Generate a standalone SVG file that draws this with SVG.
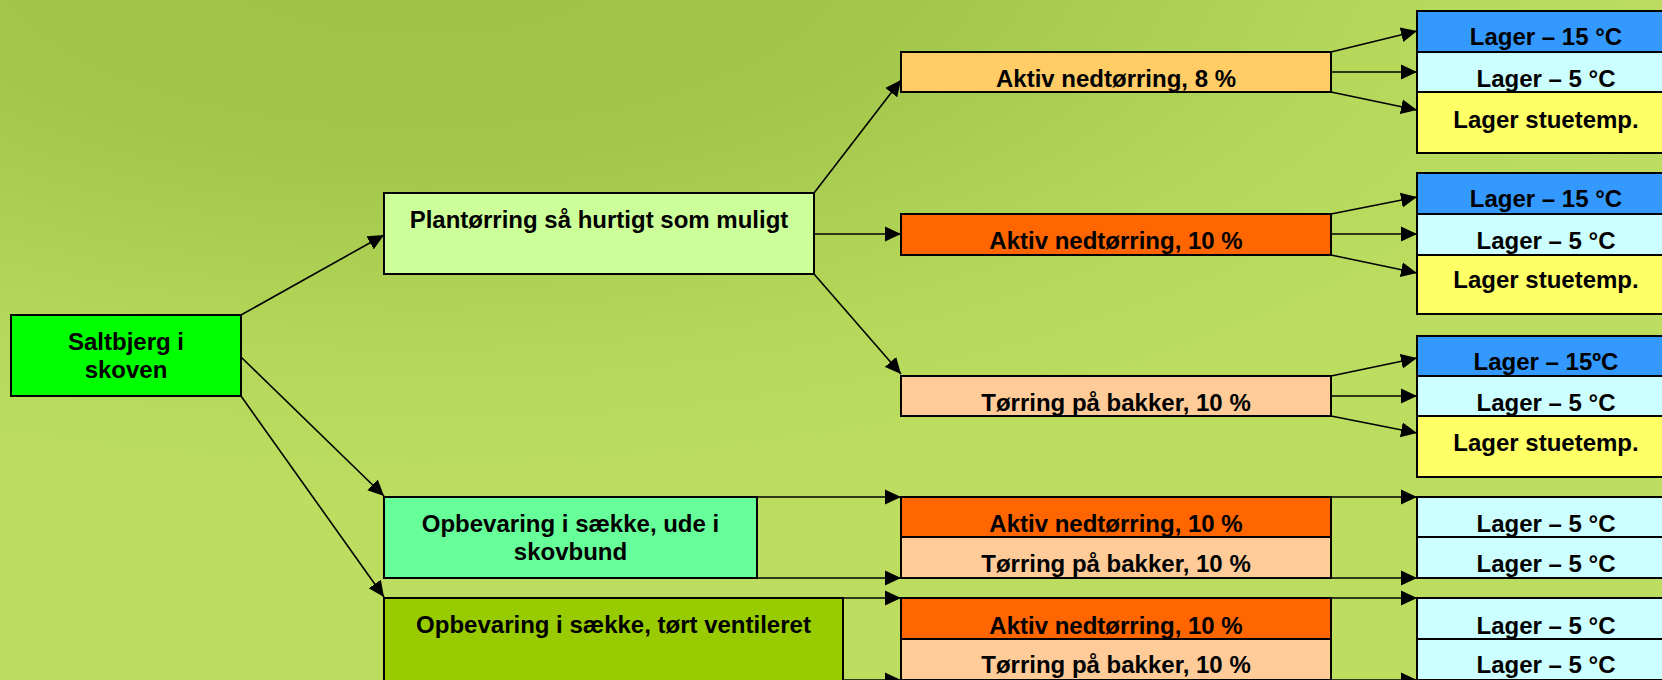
<svg xmlns="http://www.w3.org/2000/svg" width="1662" height="680" viewBox="0 0 1662 680">
<defs>
<radialGradient id="bg" gradientUnits="userSpaceOnUse" cx="0" cy="0" r="1" gradientTransform="translate(420,-60) scale(1300,560)">
<stop offset="0" stop-color="#9dc244"/>
<stop offset="0.38" stop-color="#a2c64a"/>
<stop offset="0.75" stop-color="#b5d85a"/>
<stop offset="1" stop-color="#bcdd60"/>
</radialGradient>
<marker id="ah" markerUnits="userSpaceOnUse" markerWidth="17" markerHeight="16" viewBox="0 0 17 16" refX="16" refY="8" orient="auto">
<path d="M0,0.5 L16,8 L0,15.5 Z" fill="#000"/>
</marker>
</defs>
<style>
.box{stroke:#000;stroke-width:2}
.t{font-family:"Liberation Sans",Arial,Helvetica,sans-serif;font-weight:bold;font-size:24px;fill:#000;text-anchor:middle}
.c{stroke:#000;stroke-width:1.6;fill:none;marker-end:url(#ah)}
</style>
<rect x="0" y="0" width="1662" height="680" fill="url(#bg)"/>

<g id="n-saltbjerg">
<rect class="box" x="11" y="315" width="230" height="81" fill="#00ff00"/>
<text class="t" x="126" y="350">Saltbjerg i</text>
<text class="t" x="126" y="378">skoven</text>
</g>
<g id="n-plant">
<rect class="box" x="384" y="193" width="430" height="81" fill="#ccff99"/>
<text class="t" x="599" y="228">Plantørring så hurtigt som muligt</text>
</g>
<g id="n-opb-ude">
<rect class="box" x="384" y="497" width="373" height="81" fill="#66ff99"/>
<text class="t" x="570.5" y="532">Opbevaring i sække, ude i</text>
<text class="t" x="570.5" y="560">skovbund</text>
</g>
<g id="n-opb-tort">
<rect class="box" x="384" y="598" width="459" height="90" fill="#99cc00"/>
<text class="t" x="613.5" y="633">Opbevaring i sække, tørt ventileret</text>
</g>

<g id="n-aktiv8">
<rect class="box" x="901" y="52" width="430" height="40" fill="#ffcc66"/>
<text class="t" x="1116" y="87">Aktiv nedtørring, 8 %</text>
</g>
<g id="n-aktiv10a">
<rect class="box" x="901" y="214" width="430" height="41" fill="#ff6600"/>
<text class="t" x="1116" y="249">Aktiv nedtørring, 10 %</text>
</g>
<g id="n-torring-a">
<rect class="box" x="901" y="376" width="430" height="40" fill="#ffcc99"/>
<text class="t" x="1116" y="411">Tørring på bakker, 10 %</text>
</g>
<g id="n-aktiv10b">
<rect class="box" x="901" y="497" width="430" height="40" fill="#ff6600"/>
<text class="t" x="1116" y="532">Aktiv nedtørring, 10 %</text>
</g>
<g id="n-torring-b">
<rect class="box" x="901" y="537" width="430" height="41" fill="#ffcc99"/>
<text class="t" x="1116" y="572">Tørring på bakker, 10 %</text>
</g>
<g id="n-aktiv10c">
<rect class="box" x="901" y="598" width="430" height="41" fill="#ff6600"/>
<text class="t" x="1116" y="634">Aktiv nedtørring, 10 %</text>
</g>
<g id="n-torring-c">
<rect class="box" x="901" y="639" width="430" height="41" fill="#ffcc99"/>
<text class="t" x="1116" y="673">Tørring på bakker, 10 %</text>
</g>

<g id="n-l1-15">
<rect class="box" x="1417" y="11" width="260" height="41" fill="#3399ff"/>
<text class="t" x="1546" y="45">Lager – 15 °C</text>
</g>
<g id="n-l1-5">
<rect class="box" x="1417" y="52" width="260" height="40" fill="#ccffff"/>
<text class="t" x="1546" y="87">Lager – 5 °C</text>
</g>
<g id="n-l1-st">
<rect class="box" x="1417" y="92" width="260" height="61" fill="#ffff66"/>
<text class="t" x="1546" y="128">Lager stuetemp.</text>
</g>
<g id="n-l2-15">
<rect class="box" x="1417" y="173" width="260" height="41" fill="#3399ff"/>
<text class="t" x="1546" y="207">Lager – 15 °C</text>
</g>
<g id="n-l2-5">
<rect class="box" x="1417" y="214" width="260" height="41" fill="#ccffff"/>
<text class="t" x="1546" y="249">Lager – 5 °C</text>
</g>
<g id="n-l2-st">
<rect class="box" x="1417" y="255" width="260" height="59" fill="#ffff66"/>
<text class="t" x="1546" y="288">Lager stuetemp.</text>
</g>
<g id="n-l3-15">
<rect class="box" x="1417" y="336" width="260" height="40" fill="#3399ff"/>
<text class="t" x="1546" y="370">Lager – 15ºC</text>
</g>
<g id="n-l3-5">
<rect class="box" x="1417" y="376" width="260" height="40" fill="#ccffff"/>
<text class="t" x="1546" y="411">Lager – 5 °C</text>
</g>
<g id="n-l3-st">
<rect class="box" x="1417" y="416" width="260" height="61" fill="#ffff66"/>
<text class="t" x="1546" y="451">Lager stuetemp.</text>
</g>
<g id="n-l4-5a">
<rect class="box" x="1417" y="497" width="260" height="40" fill="#ccffff"/>
<text class="t" x="1546" y="532">Lager – 5 °C</text>
</g>
<g id="n-l4-5b">
<rect class="box" x="1417" y="537" width="260" height="41" fill="#ccffff"/>
<text class="t" x="1546" y="572">Lager – 5 °C</text>
</g>
<g id="n-l5-5a">
<rect class="box" x="1417" y="598" width="260" height="41" fill="#ccffff"/>
<text class="t" x="1546" y="634">Lager – 5 °C</text>
</g>
<g id="n-l5-5b">
<rect class="box" x="1417" y="639" width="260" height="41" fill="#ccffff"/>
<text class="t" x="1546" y="673">Lager – 5 °C</text>
</g>

<g id="connectors">
<line class="c" x1="241" y1="315" x2="384" y2="235"/>
<line class="c" x1="241" y1="357" x2="384" y2="496"/>
<line class="c" x1="241" y1="396" x2="384" y2="597"/>
<line class="c" x1="814" y1="193" x2="901" y2="80"/>
<line class="c" x1="814" y1="234" x2="901" y2="234"/>
<line class="c" x1="814" y1="274" x2="901" y2="374"/>
<line class="c" x1="1331" y1="52" x2="1417" y2="31"/>
<line class="c" x1="1331" y1="72" x2="1417" y2="72"/>
<line class="c" x1="1331" y1="92" x2="1417" y2="110"/>
<line class="c" x1="1331" y1="214" x2="1417" y2="197"/>
<line class="c" x1="1331" y1="234" x2="1417" y2="234"/>
<line class="c" x1="1331" y1="255" x2="1417" y2="273"/>
<line class="c" x1="1331" y1="376" x2="1417" y2="358"/>
<line class="c" x1="1331" y1="396" x2="1417" y2="396"/>
<line class="c" x1="1331" y1="416" x2="1417" y2="433"/>
<line class="c" x1="757" y1="497" x2="901" y2="497"/>
<line class="c" x1="757" y1="578" x2="901" y2="578"/>
<line class="c" x1="843" y1="598" x2="901" y2="598"/>
<line class="c" x1="843" y1="680" x2="901" y2="680"/>
<line class="c" x1="1331" y1="497" x2="1417" y2="497"/>
<line class="c" x1="1331" y1="578" x2="1417" y2="578"/>
<line class="c" x1="1331" y1="598" x2="1417" y2="598"/>
<line class="c" x1="1331" y1="680" x2="1417" y2="680"/>
</g>
</svg>
